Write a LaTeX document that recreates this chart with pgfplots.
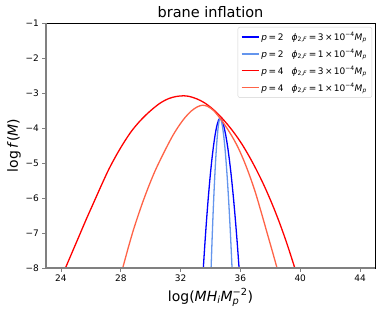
\documentclass[border=0pt]{standalone}
\usepackage{fontspec}
\setmainfont{DejaVu Sans}
\usepackage{amsmath}
\usepackage{pgfplots}
\pgfplotsset{compat=1.18}
\definecolor{mplblue}{RGB}{0,0,255}
\definecolor{cfblue}{RGB}{100,149,237}
\definecolor{mplred}{RGB}{255,0,0}
\definecolor{tomato}{RGB}{255,99,71}
\newcommand{\eq}{\hspace{0.18em}=\hspace{0.18em}}
\newcommand{\ent}[2]{\textit{p}\eq #1\hspace{0.9em}\textit{ϕ}$_{\text{2,}\textit{F}}$\eq #2\hspace{0.15em}×\hspace{0.15em}10$^{\text{−4}}$\textit{M}$_{\textit{p}}$}
\begin{document}
\begin{tikzpicture}
\begin{axis}[name=ax, scale only axis, width=329pt, height=245pt,
 xmin=23, xmax=45, ymin=-8, ymax=-1,
 xtick={24,28,32,36,40,44}, xticklabels={24,28,32,36,40,44},
 ytick={-8,-7,-6,-5,-4,-3,-2,-1},
 yticklabels={−8,−7,−6,−5,−4,−3,−2,−1},
 tick align=outside, xtick pos=bottom, ytick pos=left,
 major tick length=3.5pt,
 tick style={gray, line width=0.8pt},
 ticklabel style={font=\fontsize{9}{10}\selectfont},
 axis line style={black, line width=0.8pt},
 title={brane inflation},
 title style={font=\fontsize{14.5}{16}\selectfont, yshift=-4pt},
 xlabel={log(\textit{MH}$_{\textit{i}}$\textit{M}$_{\textit{p}}^{\text{−2}}$)},
 ylabel={log\,\textit{f}(\textit{M})},
 ylabel style={yshift=-2pt},
 label style={font=\fontsize{14}{16}\selectfont},
 legend style={at={(0.9909,0.9837)}, anchor=north east, draw=gray!35, rounded corners=2pt,
   fill=white, font=\fontsize{9}{10.5}\selectfont, row sep=3.2pt, inner sep=3pt},
 legend cell align=left,
 every axis plot/.append style={line width=1.3pt},
]
\addplot[mplblue, smooth] coordinates {
(33.52,-8) (33.632,-7.261) (33.744,-6.584) (33.856,-5.972) (33.968,-5.426) (34.08,-4.949)
(34.192,-4.543) (34.304,-4.21) (34.416,-3.956) (34.528,-3.788) (34.64,-3.72)
(34.767,-3.788) (34.894,-3.956) (35.021,-4.21) (35.148,-4.543) (35.275,-4.949)
(35.402,-5.426) (35.529,-5.972) (35.656,-6.584) (35.783,-7.261) (35.91,-8)};
\addlegendentry{\ent{2}{3}}
\addplot[cfblue, smooth] coordinates {
(34.04,-8) (34.10,-7.261) (34.16,-6.584) (34.22,-5.972) (34.28,-5.426) (34.34,-4.949)
(34.40,-4.543) (34.46,-4.21) (34.52,-3.956) (34.58,-3.788) (34.64,-3.73)
(34.72,-3.788) (34.80,-3.956) (34.88,-4.21) (34.96,-4.543) (35.04,-4.949)
(35.12,-5.426) (35.20,-5.972) (35.28,-6.584) (35.36,-7.261) (35.44,-8)};
\addlegendentry{\ent{2}{1}}
\addplot[mplred, smooth] coordinates {
(24.3,-8.0) (24.7,-7.6) (25.2,-7.1) (25.7,-6.6) (26.2,-6.12) (26.7,-5.64) (27.2,-5.18)
(27.7,-4.78) (28.2,-4.42) (28.7,-4.1) (29.2,-3.84) (29.7,-3.62) (30.2,-3.43) (30.7,-3.27)
(31.2,-3.16) (31.7,-3.10) (32.2,-3.08) (32.6,-3.10) (33.1,-3.17) (33.6,-3.28) (34.1,-3.44)
(34.6,-3.64) (35.1,-3.88) (35.6,-4.15) (36.1,-4.46) (36.6,-4.82) (37.1,-5.22) (37.6,-5.66)
(38.1,-6.15) (38.6,-6.69) (39.1,-7.29) (39.6,-7.95) (39.65,-8.02)};
\addlegendentry{\ent{4}{3}}
\addplot[tomato, smooth] coordinates {
(28.13,-8) (28.5,-7.42) (28.84,-6.92) (29.2,-6.45) (29.51,-6.07) (29.9,-5.63) (30.3,-5.22)
(30.7,-4.86) (31.1,-4.52) (31.5,-4.2) (31.9,-3.93) (32.3,-3.7) (32.7,-3.52) (33.1,-3.4)
(33.45,-3.35) (33.8,-3.38) (34.2,-3.5) (34.64,-3.72) (35.0,-3.94) (35.4,-4.21) (35.8,-4.52)
(36.2,-4.9) (36.6,-5.34) (37.0,-5.84) (37.4,-6.42) (37.8,-7.02) (38.2,-7.62) (38.5,-8.08)};
\addlegendentry{\ent{4}{1}}
\end{axis}
\draw[gray, line width=1.3pt] (ax.north west) -- (ax.south west) -- (ax.south east);
\path ([shift={(-46pt,-47pt)}]ax.south west) rectangle ([shift={(7pt,23pt)}]ax.north east);
\end{tikzpicture}
\end{document}
